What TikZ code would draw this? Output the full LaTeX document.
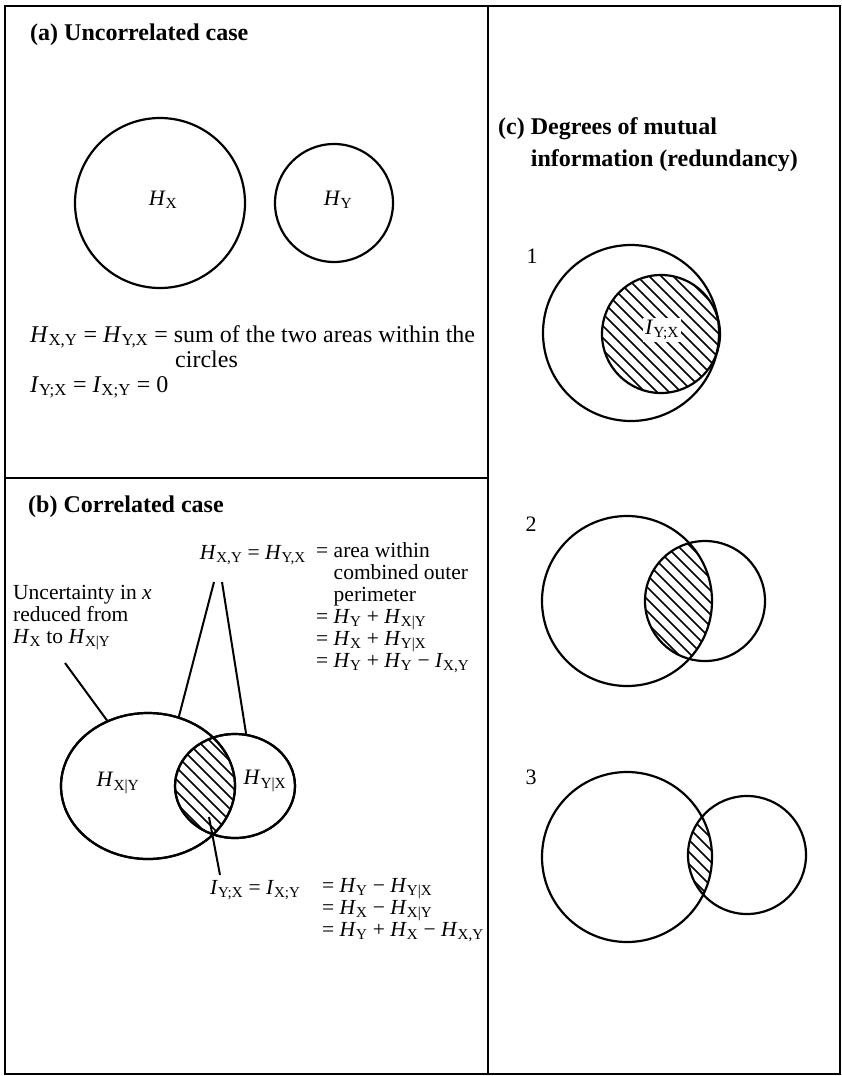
\documentclass[tikz,border=0pt]{standalone}
\usepackage{fontspec}
\setmainfont{Liberation Serif}
\usetikzlibrary{positioning,shapes.geometric}

\newcommand{\Hs}[1]{\textit{H}\textsubscript{#1}}
\newcommand{\Is}[1]{\textit{I}\textsubscript{#1}}

\begin{document}
\begin{tikzpicture}[
    x=1pt, y=-1pt,
    frame/.style={line width=1.6pt},
    set/.style={circle, draw, line width=2.2pt, inner sep=0pt},
    oval/.style={ellipse, draw, line width=2.2pt, inner sep=0pt},
    hatch/.style={line width=1.6pt},
    leader/.style={line width=2pt},
    heading/.style={font=\fontsize{24}{26}\selectfont\bfseries, inner sep=0pt, anchor=base west},
    bigtext/.style={font=\fontsize{24}{25}\selectfont, inner sep=0pt, anchor=base west},
    smalltext/.style={font=\fontsize{21.5}{22}\selectfont, inner sep=0pt, anchor=base west, align=left},
    lbl/.style={font=\fontsize{22}{22}\selectfont, inner sep=1pt},
]
\useasboundingbox (0,0) rectangle (841,1076);

% frame
\draw[frame] (5,6) rectangle (840,1074);
\draw[frame] (488,6) -- (488,1074);
\draw[frame] (5,478) -- (488,478);

% (a) uncorrelated case
\node[heading] (ta) at (30,40) {(a) Uncorrelated case};
\node[set, minimum size=170pt] (ax) at (160,203) {};
\node[set, minimum size=118pt] (ay) at (334,203) {};
\node[lbl] (ahx) at (163,200) {\Hs{X}};
\node[lbl] (ahy) at (338,200) {\Hs{Y}};
\node[bigtext] (aeq) at (30,342) {\Hs{X,Y} = \Hs{Y,X} = sum of the two areas within the};
\node[bigtext] (acirc) at (175,367) {circles};
\node[bigtext] (ai) at (30,392) {\Is{Y;X} = \Is{X;Y} = 0};

% (b) correlated case
\node[heading] (tb) at (28,512) {(b) Correlated case};
\node[oval, minimum width=174pt, minimum height=146pt] (bx) at (148,786) {};
\node[oval, minimum width=120pt, minimum height=104pt] (by) at (235,786) {};
\begin{scope}
  \clip (148,786) ellipse [x radius=87, y radius=73];
  \clip (235,786) ellipse [x radius=60, y radius=52];
  \foreach \k in {-140,-128,...,140}
    \draw[hatch] (205+\k,716) -- ++(140,140);
\end{scope}
\draw[line width=2.2pt] (148,786) ellipse [x radius=87, y radius=73];
\draw[line width=2.2pt] (235,786) ellipse [x radius=60, y radius=52];
\node[lbl] (bhx) at (118,783) {\Hs{X|Y}};
\node[lbl] (bhy) at (265,781) {\Hs{Y|X}};

\node[smalltext] (bunc) at (13,643) {Uncertainty in \textit{x}\\reduced from\\\Hs{X} to \Hs{X|Y}};
\node[smalltext, anchor=base east] (bhxy) at (306,559) {\Hs{X,Y} = \Hs{Y,X}};
\node[smalltext, anchor=north west] (bhdef) at (316,542) {%
  \begin{tabular}{@{}l@{\ }l@{}}
  = & area within\\
    & combined outer\\
    & perimeter\\
  = & \Hs{Y} + \Hs{X|Y}\\
  = & \Hs{X} + \Hs{Y|X}\\
  = & \Hs{Y} + \Hs{Y} − \Is{X,Y}
  \end{tabular}};
\node[smalltext] (bixy) at (210,894) {\Is{Y;X} = \Is{X;Y}};
\node[smalltext, anchor=north west] (bidef) at (322,877) {%
  \begin{tabular}{@{}l@{\ }l@{}}
  = & \Hs{Y} − \Hs{Y|X}\\
  = & \Hs{X} − \Hs{X|Y}\\
  = & \Hs{Y} + \Hs{X} − \Hs{X,Y}
  \end{tabular}};

\coordinate (uncend) at (65,663);
\coordinate (hl) at (214,582);
\coordinate (hr) at (222,582);
\coordinate (iin) at (209,817);
\coordinate (iend) at (220,875);
\draw[leader] (uncend) -- (bx.122);
\draw[leader] (hl) -- (bx.66);
\draw[leader] (hr) -- (by.78);
\draw[leader] (iin) -- (iend);

% (c) degrees of mutual information
\node[heading, font=\fontsize{24}{32}\selectfont\bfseries, align=left] (tc) at (498,166) {(c) Degrees of mutual\\\phantom{(c) }information (redundancy)};

% 1
\node[lbl] (n1) at (532,256) {1};
\begin{scope}
  \clip (631,333) circle (88);
  \clip (661,334) circle (59);
  \foreach \k in {-140,-128,...,140}
    \draw[hatch] (621+\k,264) -- ++(140,140);
\end{scope}
\node[set, minimum size=176pt] (c1x) at (631,333) {};
\node[set, minimum size=118pt] (c1y) at (661,334) {};
\node[lbl, fill=white, inner sep=2pt] (c1i) at (662,330) {\Is{Y;X}};

% 2
\node[lbl] (n2) at (531,524) {2};
\begin{scope}
  \clip (627,601) circle (85);
  \clip (705,601) circle (60);
  \foreach \k in {-140,-128,...,140}
    \draw[hatch] (610+\k,530) -- ++(140,140);
\end{scope}
\node[set, minimum size=170pt] (c2x) at (627,601) {};
\node[set, minimum size=120pt] (c2y) at (705,601) {};

% 3
\node[lbl] (n3) at (531,777) {3};
\begin{scope}
  \clip (627,857) circle (85);
  \clip (747,855) circle (59);
  \foreach \k in {-140,-128,...,140}
    \draw[hatch] (630+\k,785) -- ++(140,140);
\end{scope}
\node[set, minimum size=170pt] (c3x) at (627,857) {};
\node[set, minimum size=118pt] (c3y) at (747,855) {};

\end{tikzpicture}
\end{document}
